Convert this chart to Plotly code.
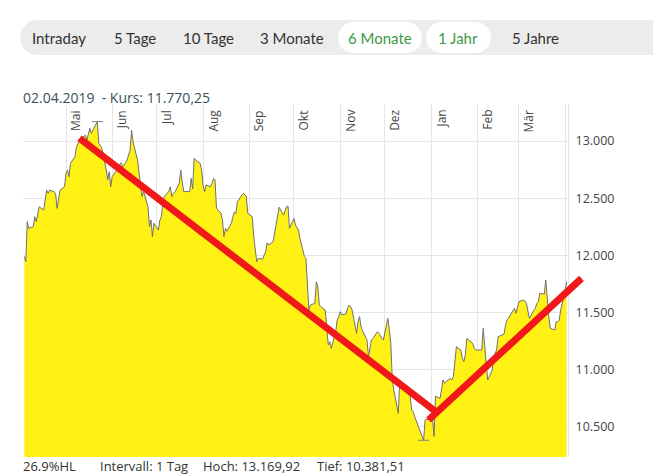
import plotly.graph_objects as go

# ---------------- data ----------------
dates = [
    "2018-04-03", "2018-04-04", "2018-04-05", "2018-04-06", "2018-04-09", "2018-04-10", "2018-04-11",
    "2018-04-12", "2018-04-13", "2018-04-16", "2018-04-17", "2018-04-18", "2018-04-19", "2018-04-20",
    "2018-04-23", "2018-04-24", "2018-04-25", "2018-04-26", "2018-04-27", "2018-04-30", "2018-05-01",
    "2018-05-02", "2018-05-03", "2018-05-04", "2018-05-07", "2018-05-08", "2018-05-09", "2018-05-10",
    "2018-05-11", "2018-05-14", "2018-05-15", "2018-05-16", "2018-05-17", "2018-05-18", "2018-05-21",
    "2018-05-22", "2018-05-23", "2018-05-24", "2018-05-25", "2018-05-28", "2018-05-29", "2018-05-30",
    "2018-05-31", "2018-06-01", "2018-06-04", "2018-06-05", "2018-06-06", "2018-06-07", "2018-06-08",
    "2018-06-11", "2018-06-12", "2018-06-13", "2018-06-14", "2018-06-15", "2018-06-18", "2018-06-19",
    "2018-06-20", "2018-06-21", "2018-06-22", "2018-06-25", "2018-06-26", "2018-06-27", "2018-06-28",
    "2018-06-29", "2018-07-02", "2018-07-03", "2018-07-04", "2018-07-05", "2018-07-06", "2018-07-09",
    "2018-07-10", "2018-07-11", "2018-07-12", "2018-07-13", "2018-07-16", "2018-07-17", "2018-07-18",
    "2018-07-19", "2018-07-20", "2018-07-23", "2018-07-24", "2018-07-25", "2018-07-26", "2018-07-27",
    "2018-07-30", "2018-07-31", "2018-08-01", "2018-08-02", "2018-08-03", "2018-08-06", "2018-08-07",
    "2018-08-08", "2018-08-09", "2018-08-10", "2018-08-13", "2018-08-14", "2018-08-15", "2018-08-16",
    "2018-08-17", "2018-08-20", "2018-08-21", "2018-08-22", "2018-08-23", "2018-08-24", "2018-08-27",
    "2018-08-28", "2018-08-29", "2018-08-30", "2018-08-31", "2018-09-03", "2018-09-04", "2018-09-05",
    "2018-09-06", "2018-09-07", "2018-09-10", "2018-09-11", "2018-09-12", "2018-09-13", "2018-09-14",
    "2018-09-17", "2018-09-18", "2018-09-19", "2018-09-20", "2018-09-21", "2018-09-24", "2018-09-25",
    "2018-09-26", "2018-09-27", "2018-09-28", "2018-10-01", "2018-10-02", "2018-10-03", "2018-10-04",
    "2018-10-05", "2018-10-08", "2018-10-09", "2018-10-10", "2018-10-11", "2018-10-12", "2018-10-15",
    "2018-10-16", "2018-10-17", "2018-10-18", "2018-10-19", "2018-10-22", "2018-10-23", "2018-10-24",
    "2018-10-25", "2018-10-26", "2018-10-29", "2018-10-30", "2018-10-31", "2018-11-01", "2018-11-02",
    "2018-11-05", "2018-11-06", "2018-11-07", "2018-11-08", "2018-11-09", "2018-11-12", "2018-11-13",
    "2018-11-14", "2018-11-15", "2018-11-16", "2018-11-19", "2018-11-20", "2018-11-21", "2018-11-22",
    "2018-11-23", "2018-11-26", "2018-11-27", "2018-11-28", "2018-11-29", "2018-11-30", "2018-12-03",
    "2018-12-04", "2018-12-05", "2018-12-06", "2018-12-07", "2018-12-10", "2018-12-11", "2018-12-12",
    "2018-12-13", "2018-12-14", "2018-12-17", "2018-12-18", "2018-12-19", "2018-12-20", "2018-12-21",
    "2018-12-27", "2018-12-28", "2019-01-02", "2019-01-03", "2019-01-04", "2019-01-07", "2019-01-08",
    "2019-01-09", "2019-01-10", "2019-01-11", "2019-01-14", "2019-01-15", "2019-01-16", "2019-01-17",
    "2019-01-18", "2019-01-21", "2019-01-22", "2019-01-23", "2019-01-24", "2019-01-25", "2019-01-28",
    "2019-01-29", "2019-01-30", "2019-01-31", "2019-02-01", "2019-02-04", "2019-02-05", "2019-02-06",
    "2019-02-07", "2019-02-08", "2019-02-11", "2019-02-12", "2019-02-13", "2019-02-14", "2019-02-15",
    "2019-02-18", "2019-02-19", "2019-02-20", "2019-02-21", "2019-02-22", "2019-02-25", "2019-02-26",
    "2019-02-27", "2019-02-28", "2019-03-01", "2019-03-04", "2019-03-05", "2019-03-06", "2019-03-07",
    "2019-03-08", "2019-03-11", "2019-03-12", "2019-03-13", "2019-03-14", "2019-03-15", "2019-03-18",
    "2019-03-19", "2019-03-20", "2019-03-21", "2019-03-22", "2019-03-25", "2019-03-26", "2019-03-27",
    "2019-03-28", "2019-03-29", "2019-04-01", "2019-04-02",
]
kurs = [
    11990, 11944, 12294, 12236, 12250, 12338, 12294,
    12380, 12425, 12396, 12480, 12571, 12542, 12571,
    12556, 12540, 12411, 12500, 12571, 12600, 12717,
    12746, 12688, 12805, 12863, 12950, 12980, 13000,
    13020, 13050, 13010, 13070, 13111, 13067, 13140,
    13169.92, 12980, 12960, 12940, 12746, 12659, 12731,
    12600, 12688, 12746, 12780, 12800, 12810, 12770,
    12834, 12880, 12921, 13096, 12990, 12834, 12717,
    12640, 12513, 12560, 12425, 12250, 12310, 12163,
    12280, 12221, 12309, 12338, 12460, 12513, 12560,
    12600, 12513, 12542, 12550, 12630, 12746, 12640,
    12556, 12560, 12556, 12673, 12580, 12849, 12834,
    12805, 12746, 12615, 12556, 12615, 12600, 12630,
    12673, 12660, 12411, 12367, 12309, 12163, 12236,
    12210, 12280, 12338, 12380, 12365, 12469, 12527,
    12542, 12530, 12513, 12367, 12338, 12163, 12040,
    11944, 11974, 11965, 12003, 12031, 12110, 12090,
    12119, 12192, 12250, 12338, 12420, 12352, 12382,
    12425, 12430, 12236, 12323, 12265, 12240, 12221,
    12148, 11990, 11974, 11755, 11521, 11565, 11580,
    11769, 11725, 11565, 11550, 11521, 11346, 11215,
    11244, 11186, 11330, 11434, 11460, 11506, 11480,
    11486, 11540, 11565, 11550, 11521, 11317, 11419,
    11463, 11375, 11340, 11259, 11113, 11200, 11259,
    11273, 11331, 11317, 11288, 11273, 11259, 11448,
    11346, 11229, 10909, 10821, 10617, 10909, 10880,
    10850, 10840, 10792, 10763, 10646, 10631, 10588,
    10381.51, 10559, 10580, 10416, 10767, 10747, 10821,
    10909, 10880, 10894, 10923, 10909, 10938, 11084,
    11200, 11171, 11099, 11069, 11130, 11273, 11244,
    11229, 11186, 11171, 11171, 11171, 11361, 11200,
    10996, 10909, 10990, 11100, 11142, 11171, 11288,
    11300, 11310, 11390, 11434, 11450, 11510, 11536,
    11492, 11560, 11594, 11609, 11600, 11580, 11521,
    11448, 11520, 11536, 11580, 11594, 11667, 11660,
    11784, 11603, 11463, 11361, 11346, 11419, 11419,
    11430, 11521, 11690, 11770.25,
]

month_starts = ["2018-05-01", "2018-06-01", "2018-07-01", "2018-08-01", "2018-09-01", "2018-10-01",
                "2018-11-01", "2018-12-01", "2019-01-01", "2019-02-01", "2019-03-01"]
month_labels = ["Mai", "Jun", "Jul", "Aug", "Sep", "Okt", "Nov", "Dez", "Jan", "Feb", "Mär"]
y_ticks = [10500, 11000, 11500, 12000, 12500, 13000]

# trend lines drawn by the user: (start date, start value), (end date, end value)
trend_down = [("2018-05-09", 13035), ("2019-01-03 16:00", 10637)]
trend_up = [("2018-12-30 07:00", 10559), ("2019-04-13", 11810)]

tabs = ["Intraday", "5 Tage", "10 Tage", "3 Monate", "6 Monate", "1 Jahr", "5 Jahre"]
tab_active = [False, False, False, False, True, True, False]

title_text = "02.04.2019\u00a0\u00a0- Kurs: 11.770,25"
footer = ["26.9%HL", "Intervall: 1 Tag", "Hoch:\u00a013.169,92", "Tief:\u00a010.381,51"]

# ---------------- layout constants ----------------
W, H = 653, 474
ML, MR, MT, MB = 23, 85, 104, 17
FONT = "Open Sans"

fig = go.Figure()

fig.add_trace(go.Scatter(
    x=dates, y=kurs, mode="lines", fill="tozeroy",
    fillcolor="rgba(255,240,0,0.92)",
    line=dict(color="#707070", width=1),
    hoverinfo="skip", showlegend=False,
))

# high / low markers
i_max = kurs.index(max(kurs))
i_min = kurs.index(min(kurs))
fig.add_trace(go.Scatter(
    x=[dates[i_max], dates[i_min]], y=[kurs[i_max], kurs[i_min]], mode="markers",
    marker=dict(symbol="line-ew", size=8, line=dict(color="#808080", width=1)),
    hoverinfo="skip", showlegend=False,
))

annotations = []

# month labels (rotated, inside top of plot)
for d, lab in zip(month_starts, month_labels):
    annotations.append(dict(
        x=d, xref="x", y=1, yref="paper", text=lab, showarrow=False,
        textangle=-90, xanchor="center", yanchor="top", xshift=9.5, yshift=-4,
        font=dict(family=FONT, size=12, color="#444444"),
    ))

# trend lines as head-less arrow annotations (they may extend past the plot edge)
# head at the in-range end, tail at the other end
for head, tail in ((trend_down[1], trend_down[0]), (trend_up[0], trend_up[1])):
    annotations.append(dict(
        x=head[0], y=head[1], ax=tail[0], ay=tail[1],
        xref="x", yref="y", axref="x", ayref="y",
        text="", showarrow=True, arrowhead=0, arrowwidth=7, arrowcolor="#f01818",
        standoff=0, startstandoff=0,
    ))

# title
annotations.append(dict(
    x=0, xref="paper", y=1, yref="paper", xanchor="left", yanchor="middle",
    xshift=-2, yshift=MT - 97, text=title_text, showarrow=False,
    font=dict(family=FONT, size=14, color="#3d4f5a"),
))

# footer
footer_x = [22, 99, 202, 316]
for fx, ft in zip(footer_x, footer):
    annotations.append(dict(
        x=0, xref="paper", y=0, yref="paper", xanchor="left", yanchor="top",
        xshift=fx - ML - 1, yshift=2, text=ft, showarrow=False,
        font=dict(family=FONT, size=13, color="#333333"),
    ))

# tab bar
shapes = []


def pill(x0, y0, x1, y1):
    r = (y1 - y0) / 2.0
    k = 0.5523 * r
    X0, X1 = x0 - ML, x1 - ML
    Yt, Yb = MT - y0, MT - y1
    Ym = (Yt + Yb) / 2.0
    return (f"M{X0 + r},{Yb} L{X1 - r},{Yb} "
            f"C{X1 - r + k},{Yb} {X1},{Ym - k} {X1},{Ym} "
            f"C{X1},{Ym + k} {X1 - r + k},{Yt} {X1 - r},{Yt} "
            f"L{X0 + r},{Yt} "
            f"C{X0 + r - k},{Yt} {X0},{Ym + k} {X0},{Ym} "
            f"C{X0},{Ym - k} {X0 + r - k},{Yb} {X0 + r},{Yb} Z")


def add_pill(x0, y0, x1, y1, color):
    shapes.append(dict(
        type="path", path=pill(x0, y0, x1, y1), xref="paper", yref="paper",
        xsizemode="pixel", ysizemode="pixel", xanchor=0, yanchor=1,
        fillcolor=color, line=dict(width=0), layer="above",
    ))


add_pill(20, 20, 760, 55, "#ececec")
add_pill(338, 22, 422, 53, "#ffffff")
add_pill(426, 22, 491, 53, "#ffffff")

tab_centers = [59, 135, 208, 292, 380, 458, 510]
for tx, tt, act in zip(tab_centers, tabs, tab_active):
    annotations.append(dict(
        x=0, xref="paper", y=1, yref="paper",
        xanchor="left" if tt == "5 Jahre" else "center", yanchor="middle",
        xshift=tx - ML, yshift=MT - 38, text=tt, showarrow=False,
        font=dict(family="Lato", size=15, color="#3d9a47" if act else "#333333"),
    ))

fig.update_layout(
    width=W, height=H,
    margin=dict(l=ML, r=MR, t=MT, b=MB, pad=0),
    paper_bgcolor="white", plot_bgcolor="white",
    separators=",.",
    showlegend=False,
    annotations=annotations,
    shapes=shapes,
    xaxis=dict(
        type="date", range=["2018-04-02 03:00", "2019-04-02 22:00"],
        tick0="2018-05-01", dtick="M1", showticklabels=False, ticks="",
        showgrid=True, gridcolor="#e6e6e6", gridwidth=1, zeroline=False, showline=False,
        fixedrange=True,
    ),
    yaxis=dict(
        side="right", range=[10235, 13324], tickvals=y_ticks, tickformat=",d",
        showgrid=True, gridcolor="#e6e6e6", gridwidth=1, zeroline=False,
        showline=True, linecolor="#e6e6e6", linewidth=1, mirror=False,
        ticks="", ticklabelstandoff=4,
        tickfont=dict(family=FONT, size=12.5, color="#444444"),
        fixedrange=True,
    ),
)

fig.write_html(
    "out.html",
    config={"displayModeBar": False},
    post_script="document.body.style.margin='0';document.body.style.overflow='hidden';",
)
